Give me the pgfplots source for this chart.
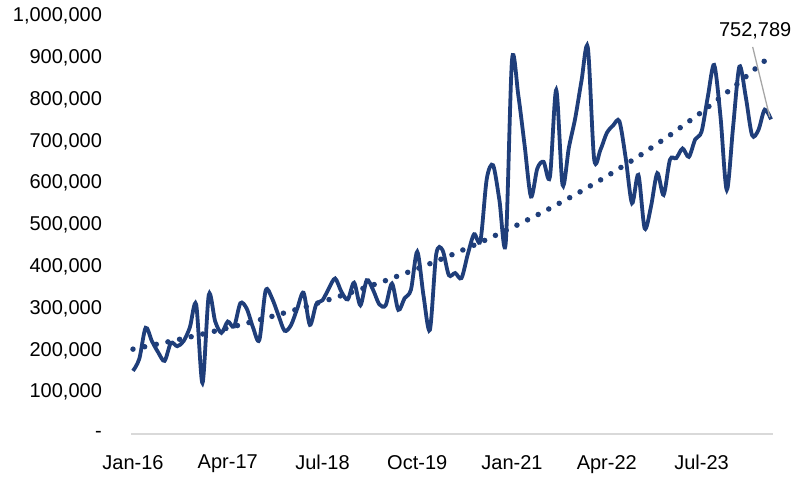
\documentclass[border=0pt]{standalone}
\usepackage{fontspec}
\setmainfont{Liberation Sans}
\usepackage{pgfplots}
\pgfplotsset{compat=1.18}

\definecolor{lineblue}{RGB}{31,62,122}
\definecolor{axisgray}{RGB}{217,217,217}
\definecolor{leadergray}{RGB}{166,166,166}

\newcommand{\lbl}{\fontsize{20}{24}\selectfont}

\begin{document}
\begin{tikzpicture}
\useasboundingbox (0,0) rectangle (796pt,477pt);
\begin{axis}[
  at={(131.1pt,43pt)}, anchor=south west,
  width=641.8pt, height=418pt, scale only axis,
  xmin=-0.3, xmax=101.3,
  ymin=0, ymax=1000000,
  clip=false,
  scaled y ticks=false,
  axis x line=bottom,
  axis y line=left,
  x axis line style={-, draw=axisgray, line width=1.5pt},
  y axis line style={draw=none},
  major tick length=0pt,
  xtick={0,15,30,45,60,75,90},
  xticklabels={Jan-16,Apr-17,Jul-18,Oct-19,Jan-21,Apr-22,Jul-23},
  ytick={0,100000,200000,300000,400000,500000,600000,700000,800000,900000,1000000},
  yticklabels={{-\hspace{6.5pt}},{100,000},{200,000},{300,000},{400,000},{500,000},{600,000},{700,000},{800,000},{900,000},{1,000,000}},
  yticklabel style={font=\lbl, anchor=east, inner sep=0pt, xshift=-29pt},
  xticklabel style={font=\lbl, anchor=north, inner sep=0pt, yshift=-21pt},
]
% monthly values, Jan-16 .. Jun-24
\addplot[lineblue, line width=3.8pt, smooth, tension=0.5] coordinates {
(0,151000) (1,180000) (2,254000) (3,222000) (4,195000) (5,175000)
(6,218000) (7,210000) (8,222000) (9,255000) (10,310000) (11,122000)
(12,333000) (13,270000) (14,242000) (15,269000) (16,257000) (17,313000)
(18,300000) (19,255000) (20,225000) (21,343000) (22,325000) (23,285000)
(24,247000) (25,260000) (26,300000) (27,338000) (28,261000) (29,310000)
(30,320000) (31,348000) (32,372000) (33,340000) (34,322000) (35,362000)
(36,308000) (37,368000) (38,345000) (39,310000) (40,308000) (41,360000)
(42,297000) (43,325000) (44,345000) (45,436000) (46,330000) (47,249000)
(48,430000) (49,440000) (50,380000) (51,385000) (52,373000) (53,430000)
(54,478000) (55,462000) (56,610000) (57,643000) (58,560000) (59,456000)
(60,895000) (61,810000) (62,690000) (63,568000) (64,635000) (65,651000)
(66,615000) (67,823000) (68,596000) (69,685000) (70,755000) (71,845000)
(72,925000) (73,658000) (74,680000) (75,720000) (76,738000) (77,748000)
(78,660000) (79,552000) (80,620000) (81,492000) (82,544000) (83,624000)
(84,572000) (85,656000) (86,660000) (87,683000) (88,663000) (89,705000)
(90,723000) (91,807000) (92,883000) (93,760000) (94,584000) (95,735000)
(96,879000) (97,807000) (98,715000) (99,727000) (100,776000) (101,752789)
};
% exponential trend
\addplot[lineblue, line width=5.5pt, line cap=round, dash pattern=on 0pt off 11.9pt] coordinates {
(0,203000) (5,218600) (10,235400) (15,253500) (20,273000) (25,294000)
(30,316600) (35,340900) (40,367100) (45,395300) (50,425700) (55,458400)
(60,493700) (65,531600) (70,572500) (75,616500) (80,663800) (85,714900)
(90,769800) (95,829000) (100,892700) (101,906000)
};
% data label of the last point
\draw[leadergray, line width=1.3pt] (axis cs:98.1,926000) -- (axis cs:100.8,758000);
\node[font=\lbl, inner sep=0pt] at (axis cs:98.5,965000) {752,789};
\end{axis}
\end{tikzpicture}
\end{document}
